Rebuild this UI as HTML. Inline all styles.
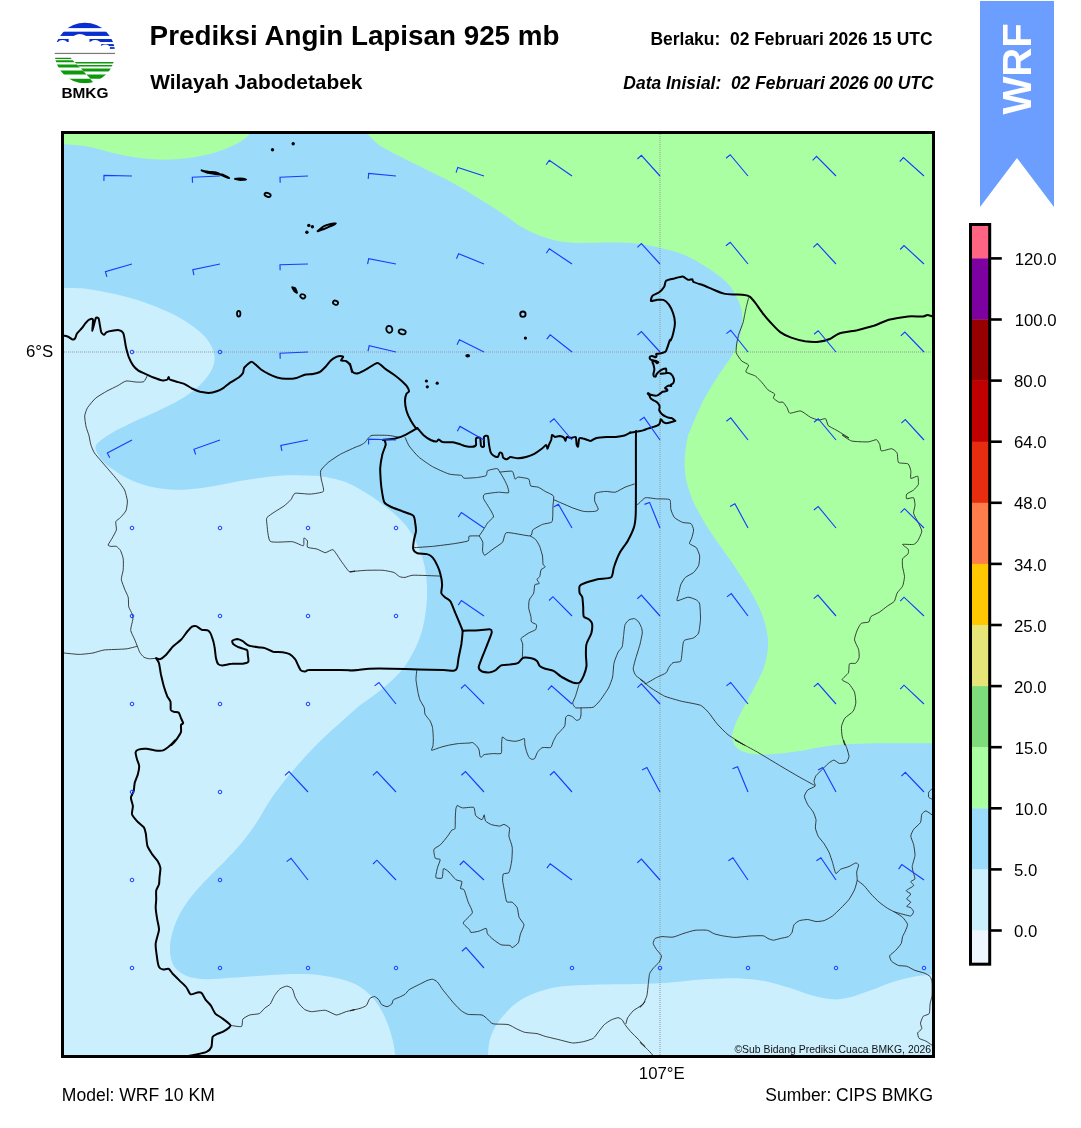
<!DOCTYPE html>
<html><head><meta charset="utf-8">
<style>
html,body{margin:0;padding:0;background:#fff;}
body{width:1081px;height:1128px;overflow:hidden;position:relative;font-family:"Liberation Sans",sans-serif;}
svg{position:absolute;left:0;top:0;will-change:transform;}
text{font-family:"Liberation Sans",sans-serif;fill:#000;}
.b{font-weight:bold;}
.thick{fill:none;stroke:#000;stroke-width:2.0;stroke-linejoin:round;stroke-linecap:round;}
.thin{fill:none;stroke:#202020;stroke-width:0.85;stroke-linejoin:round;}
.barb{fill:none;stroke:#1a3cff;stroke-width:1.15;stroke-linecap:butt;}
.calm{fill:none;stroke:#1a3cff;stroke-width:1;}
</style></head><body>
<svg width="1081" height="1128" viewBox="0 0 1081 1128">
<defs><clipPath id="mc"><rect x="64" y="134" width="868" height="921"/></clipPath></defs>
<!--LOGO-->
<defs><clipPath id="lc"><circle cx="84.9" cy="53" r="30.2"/></clipPath></defs><g clip-path="url(#lc)"><rect x="50.35" y="20.17" width="71.21" height="7.93" fill="#0a2fd0"/><rect x="50.35" y="31.67" width="71.21" height="4.27" fill="#0a2fd0"/><rect x="50.35" y="38.99" width="18.31" height="3.05" fill="#0a2fd0"/><rect x="89.51" y="38.99" width="32.04" height="3.05" fill="#0a2fd0"/><rect x="101.21" y="44.08" width="20.35" height="2.03" fill="#0a2fd0"/><rect x="109.86" y="47.13" width="11.70" height="1.73" fill="#0a2fd0"/><g fill="#fff"><ellipse cx="79.85" cy="39.50" rx="7.63" ry="5.60"/><ellipse cx="62.55" cy="43.57" rx="5.09" ry="3.56"/><ellipse cx="95.11" cy="44.08" rx="5.60" ry="4.07"/><ellipse cx="105.28" cy="47.13" rx="4.07" ry="2.54"/></g><rect x="50.35" y="52.83" width="71.21" height="1.22" fill="#7a7a7a"/><polygon points="50.35,57.81 70.69,57.81 71.71,58.93 50.35,58.93" fill="#0c9a0c"/><polygon points="50.35,60.15 72.73,60.15 74.76,62.19 50.35,62.19" fill="#0c9a0c"/><polygon points="74.76,61.88 121.56,61.88 121.56,63.41 76.29,63.41" fill="#0c9a0c"/><polygon points="50.35,64.43 77.00,64.43 79.85,67.48 50.35,67.48" fill="#0c9a0c"/><polygon points="77.81,64.93 121.56,64.93 121.56,66.56 79.34,66.56" fill="#0c9a0c"/><polygon points="50.35,70.53 82.70,70.53 86.46,74.60 50.35,74.60" fill="#0c9a0c"/><polygon points="80.86,68.49 121.56,68.49 121.56,71.55 83.92,71.55" fill="#0c9a0c"/><polygon points="50.35,78.67 90.02,78.67 94.09,83.25 50.35,84.26" fill="#0c9a0c"/><polygon points="86.46,74.60 121.56,74.60 121.56,78.67 90.53,78.67" fill="#0c9a0c"/></g><text x="84.9" y="98" font-size="15.4" font-weight="bold" text-anchor="middle">BMKG</text>
<!--HEADER-->
<text x="149.6" y="44.5" class="b" font-size="27.8">Prediksi Angin Lapisan 925 mb</text>
<text x="150.2" y="89" class="b" font-size="20.9">Wilayah Jabodetabek</text>
<text x="932.5" y="45" class="b" font-size="17.45" text-anchor="end" xml:space="preserve">Berlaku:  02 Februari 2026 15 UTC</text>
<text x="933.5" y="88.8" class="b" font-size="17.45" font-style="italic" text-anchor="end" xml:space="preserve">Data Inisial:  02 Februari 2026 00 UTC</text>
<!--RIBBON-->
<polygon points="980,1 1054,1 1054,207 1017,158 980,207" fill="#6b9eff"/>
<text transform="translate(1031,114.6) rotate(-90)" class="b" font-size="40.2" style="fill:#fff">WRF</text>
<!--MAP-->
<g clip-path="url(#mc)">
<rect x="64" y="134" width="868" height="921" fill="#9ddbfb"/>
<!--FILLS-->
<path d="M64.1,144.3 C68.0,144.7 79.0,145.0 87.5,146.5 C96.0,148.0 105.8,151.4 115.0,153.4 C124.2,155.3 134.2,157.3 142.5,158.3 C150.7,159.4 157.1,159.7 164.5,159.7 C171.8,159.7 179.1,159.2 186.5,158.3 C193.8,157.4 201.6,155.9 208.5,154.2 C215.3,152.5 222.2,150.1 227.7,147.9 C233.2,145.7 237.8,143.3 241.5,141.0 C245.1,138.7 247.9,136.0 249.7,134.1 C251.5,132.3 252.0,130.7 252.5,130.0 L255.0,120.0 L50.0,120.0 L50.0,144.0Z" fill="#abffa3"/>
<path d="M363.7,130.0 C364.4,130.7 365.6,131.8 367.9,134.1 C370.2,136.4 373.1,140.5 377.5,143.7 C381.8,147.0 387.1,149.7 394.0,153.4 C400.9,157.0 410.5,161.6 418.7,165.7 C427.0,169.9 435.2,173.8 443.5,178.1 C451.7,182.5 460.4,187.3 468.2,191.9 C476.0,196.4 483.8,201.5 490.2,205.6 C496.6,209.7 501.7,213.2 506.7,216.6 C511.8,220.0 515.4,223.3 520.5,226.2 C525.5,229.2 531.5,232.2 537.0,234.5 C542.5,236.8 547.5,238.6 553.5,240.0 C559.4,241.4 565.4,242.3 572.7,242.7 C580.0,243.2 588.7,242.7 597.5,242.7 C606.2,242.7 617.9,242.5 625.0,242.7 C632.0,243.0 633.8,243.2 640.0,244.1 C646.2,245.0 655.1,246.6 662.0,248.2 C668.9,249.8 674.8,251.2 681.2,253.7 C687.7,256.2 694.5,259.9 700.5,263.4 C706.4,266.8 712.2,270.7 717.0,274.3 C721.8,278.0 726.2,281.7 729.4,285.3 C732.6,289.0 734.3,292.5 736.2,296.3 C738.2,300.2 740.2,304.8 741.2,308.7 C742.2,312.6 742.3,316.1 742.3,319.7 C742.3,323.4 742.0,326.8 741.2,330.7 C740.4,334.6 739.1,339.0 737.6,343.1 C736.1,347.2 734.6,351.1 732.1,355.5 C729.6,359.8 725.7,364.4 722.5,369.2 C719.3,374.0 716.1,379.1 712.9,384.3 C709.7,389.6 706.2,395.1 703.2,400.8 C700.3,406.6 697.3,413.4 695.0,418.7 C692.7,424.0 690.6,429.7 689.5,432.4 C688.3,435.2 688.8,431.8 688.1,435.0 C687.4,438.2 685.9,446.0 685.4,451.5 C684.8,457.0 684.5,462.5 684.8,468.0 C685.1,473.5 685.8,478.8 687.3,484.5 C688.8,490.2 691.0,496.4 693.6,502.4 C696.3,508.3 699.6,514.0 703.2,520.2 C706.9,526.4 711.3,533.1 715.6,539.5 C720.0,545.9 724.8,552.1 729.4,558.7 C733.9,565.4 738.8,572.5 743.1,579.3 C747.5,586.2 752.0,593.3 755.5,600.0 C758.9,606.6 761.7,612.8 763.7,619.2 C765.8,625.6 767.3,632.5 767.9,638.5 C768.4,644.4 767.9,649.5 767.0,655.0 C766.1,660.5 764.5,666.0 762.4,671.5 C760.2,677.0 757.1,682.2 754.1,688.0 C751.1,693.7 747.5,700.1 744.5,705.8 C741.5,711.6 738.3,717.5 736.2,722.3 C734.2,727.1 732.7,731.8 732.1,734.7 C731.6,737.6 732.5,738.2 732.9,740.0 C733.4,741.8 733.4,743.7 734.9,745.5 C736.3,747.3 738.3,749.5 741.7,751.0 C745.2,752.5 749.5,753.8 755.5,754.3 C761.4,754.8 770.1,754.3 777.5,753.7 C784.8,753.2 792.1,752.1 799.5,751.0 C806.8,749.9 813.2,748.0 821.5,746.9 C829.7,745.7 838.0,744.7 849.0,744.1 C860.0,743.5 873.6,743.4 887.5,743.3 C901.3,743.2 922.8,743.3 932.0,743.3 C941.2,743.3 940.7,743.3 942.4,743.3 L950.0,743.0 L950.0,120.0 L363.0,120.0Z" fill="#abffa3"/>
<path d="M60.0,288.1 C60.7,288.1 59.5,288.0 64.1,288.1 C68.7,288.2 79.0,287.9 87.5,288.9 C96.0,289.9 105.8,292.0 115.0,294.1 C124.2,296.3 133.3,298.7 142.5,301.8 C151.7,305.0 162.2,309.2 170.0,312.8 C177.8,316.5 183.7,320.2 189.2,323.8 C194.7,327.5 199.3,331.2 203.0,334.8 C206.6,338.5 209.3,342.2 211.2,345.8 C213.1,349.5 214.3,353.2 214.5,356.8 C214.8,360.5 214.1,364.2 212.6,367.8 C211.1,371.5 208.7,375.2 205.7,378.8 C202.7,382.5 199.3,386.2 194.7,389.8 C190.1,393.5 184.6,397.2 178.2,400.8 C171.8,404.5 163.6,408.4 156.2,411.8 C148.9,415.3 141.1,418.2 134.2,421.4 C127.4,424.7 120.5,428.0 115.0,431.1 C109.5,434.2 104.5,437.7 101.2,440.1 C98.0,442.6 96.4,443.9 95.7,446.0 C95.1,448.1 95.7,450.1 97.1,452.9 C98.5,455.6 101.0,459.5 104.0,462.5 C107.0,465.5 110.9,468.0 115.0,470.7 C119.1,473.5 123.2,476.5 128.7,479.0 C134.2,481.5 141.1,484.1 148.0,485.9 C154.9,487.6 163.1,488.9 170.0,489.4 C176.9,490.0 182.4,489.7 189.2,489.2 C196.1,488.7 203.4,487.7 211.2,486.4 C219.0,485.2 228.2,483.1 236.0,481.7 C243.8,480.4 250.6,479.2 258.0,478.2 C265.3,477.2 272.6,476.2 280.0,475.7 C287.3,475.2 295.1,475.3 302.0,475.4 C308.8,475.5 314.8,475.4 321.2,476.2 C327.6,477.1 335.7,479.1 340.5,480.4 C345.3,481.7 346.1,482.1 350.0,483.9 C353.9,485.8 358.7,488.3 363.7,491.4 C368.8,494.4 374.7,498.2 380.2,502.4 C385.7,506.5 391.9,511.5 396.7,516.1 C401.6,520.7 405.4,524.6 409.1,529.9 C412.8,535.1 416.1,541.5 418.7,547.7 C421.4,553.9 423.4,560.6 424.8,567.0 C426.2,573.4 426.7,579.8 427.0,586.2 C427.3,592.6 427.1,598.6 426.4,605.5 C425.7,612.3 424.6,620.6 422.9,627.5 C421.1,634.3 419.0,640.3 416.0,646.7 C413.0,653.1 409.1,660.2 405.0,666.0 C400.9,671.7 396.3,676.3 391.2,681.1 C386.2,685.9 380.2,690.6 374.7,694.8 C369.2,699.1 363.8,702.2 358.2,706.7 C352.7,711.1 347.2,716.6 341.6,721.6 C336.0,726.6 330.2,731.6 324.9,736.6 C319.6,741.6 315.0,746.3 310.0,751.6 C305.0,756.9 299.8,762.7 295.0,768.2 C290.2,773.7 285.7,779.2 281.3,784.8 C277.0,790.4 273.1,795.6 269.0,801.9 C264.8,808.1 261.2,815.6 256.6,822.5 C252.0,829.4 246.7,836.7 241.5,843.1 C236.2,849.5 230.5,855.3 225.0,861.0 C219.5,866.7 213.7,872.0 208.5,877.5 C203.2,883.0 197.9,888.2 193.4,894.0 C188.8,899.7 184.3,905.9 181.0,911.8 C177.6,917.8 175.1,924.0 173.3,929.7 C171.4,935.4 170.3,941.2 170.0,946.2 C169.7,951.3 170.2,956.1 171.4,960.0 C172.5,963.9 174.1,966.8 176.9,969.6 C179.6,972.3 183.0,974.9 187.9,976.5 C192.7,978.1 198.6,979.0 205.7,979.2 C212.8,979.4 221.8,978.4 230.5,977.8 C239.2,977.3 248.8,976.5 258.0,975.9 C267.1,975.3 276.3,974.5 285.5,974.3 C294.6,974.0 304.7,973.9 313.0,974.5 C321.2,975.1 328.8,976.6 335.0,977.8 C341.1,979.1 345.7,980.4 350.0,982.0 C354.3,983.6 357.3,984.9 361.0,987.5 C364.7,990.0 368.6,993.2 372.0,997.1 C375.4,1001.0 378.9,1006.0 381.6,1010.8 C384.4,1015.6 386.7,1021.1 388.5,1025.9 C390.3,1030.8 391.6,1035.7 392.6,1039.7 C393.6,1043.7 394.1,1046.9 394.5,1050.1 C395.0,1053.4 395.2,1057.5 395.4,1058.9 L395.0,1070.0 L50.0,1070.0 L50.0,288.0Z" fill="#cceffe"/>
<path d="M488.3,1058.9 C488.3,1057.5 488.0,1053.6 488.3,1050.1 C488.6,1046.7 489.0,1042.4 490.2,1038.3 C491.5,1034.3 493.4,1029.8 495.7,1025.9 C498.0,1022.1 500.8,1018.6 504.0,1015.0 C507.2,1011.3 510.8,1007.2 515.0,1004.0 C519.1,1000.7 523.7,998.1 528.7,995.7 C533.8,993.3 539.3,991.3 545.2,989.7 C551.2,988.1 556.7,986.9 564.5,986.1 C572.3,985.3 582.8,985.0 592.0,984.7 C601.1,984.4 611.4,984.3 619.5,984.2 C627.5,984.0 632.0,984.1 640.0,983.9 C648.0,983.7 658.3,983.4 667.5,982.8 C676.7,982.1 685.8,980.8 695.0,980.0 C704.2,979.3 714.2,978.6 722.5,978.4 C730.7,978.2 737.1,978.2 744.5,978.7 C751.8,979.2 759.1,979.9 766.5,981.4 C773.8,982.9 781.1,985.2 788.5,987.5 C795.8,989.7 803.1,992.9 810.5,994.9 C817.8,996.9 826.1,998.8 832.5,999.3 C838.9,999.7 842.5,999.1 849.0,997.6 C855.4,996.1 863.6,992.8 871.0,990.2 C878.3,987.6 885.6,984.2 893.0,982.0 C900.3,979.7 908.4,977.7 915.0,976.5 C921.5,975.2 927.4,975.0 932.0,974.5 C936.6,974.1 940.7,973.8 942.4,973.7 L950.0,974.0 L950.0,1070.0 L488.0,1070.0Z" fill="#cceffe"/>

<!--GRID-->
<line x1="64" y1="352" x2="932" y2="352" stroke="#999" stroke-width="1" stroke-dasharray="1,1"/>
<line x1="660" y1="134" x2="660" y2="1055" stroke="#999" stroke-width="1" stroke-dasharray="1,1"/>
<!--THIN-->
<path class="thin" d="M147.4,375.5 C147.1,376.1 144.8,381.0 143.9,381.6 C142.9,382.2 138.6,382.2 137.0,382.1 C135.4,382.1 127.7,380.7 126.0,381.0 C124.2,381.4 119.5,384.8 117.7,385.7 C116.0,386.6 108.7,390.1 106.7,391.2 C104.7,392.3 97.5,396.6 95.7,398.1 C94.0,399.6 88.5,406.1 87.5,407.7 C86.5,409.3 84.9,414.2 84.7,415.9 C84.6,417.7 85.7,425.2 86.1,426.9 C86.5,428.7 88.4,433.6 88.9,435.2 C89.3,436.8 90.3,443.0 90.8,444.6 C91.3,446.2 93.4,451.4 94.4,452.9 C95.3,454.4 99.9,459.5 101.2,461.1 C102.6,462.7 108.0,469.0 109.5,470.7 C111.0,472.5 116.4,478.6 117.7,480.4 C119.1,482.1 123.7,488.1 124.6,490.0 C125.5,491.9 127.2,499.1 127.4,501.0 C127.5,502.9 126.6,509.1 126.0,510.6 C125.4,512.1 121.4,516.5 120.5,517.5 C119.6,518.5 116.2,520.5 115.8,521.6 C115.4,522.7 116.7,528.4 116.4,529.9 C116.0,531.4 113.0,536.7 112.2,538.1 C111.5,539.5 108.2,544.2 108.1,545.0 C108.0,545.7 110.1,546.2 110.9,546.4 C111.6,546.5 115.5,546.0 116.4,546.4 C117.2,546.7 119.9,549.4 120.5,550.5 C121.1,551.6 123.0,557.0 123.2,558.7 C123.5,560.5 123.4,567.9 123.2,569.7 C123.1,571.6 121.2,577.6 121.3,579.3 C121.4,581.1 124.0,587.3 124.6,589.0 C125.2,590.6 127.8,595.6 128.2,597.2 C128.6,598.8 128.4,605.3 128.7,606.8 C129.1,608.3 131.7,612.6 132.0,613.7 C132.4,614.8 133.0,617.7 132.9,619.2 C132.7,620.7 130.5,628.5 130.7,630.2 C130.8,632.0 133.6,637.0 134.2,638.5 C134.9,640.0 137.0,645.5 137.5,646.7 C138.0,648.0 139.2,651.3 139.7,652.2 C140.3,653.2 143.0,656.6 143.9,657.2 C144.7,657.8 148.2,658.7 149.4,658.8 C150.5,658.9 155.6,658.3 156.2,658.3"/>
<path class="thin" d="M60.0,652.8 C60.4,652.8 62.4,652.9 64.1,653.0 C65.9,653.2 76.6,654.4 79.2,654.4 C81.9,654.4 90.7,653.4 93.0,653.0 C95.2,652.6 101.0,650.4 104.0,650.0 C107.0,649.6 122.9,649.3 126.0,648.9 C129.0,648.6 136.5,646.4 137.5,646.2"/>
<path class="thin" d="M398.9,437.2 C397.8,437.0 390.2,435.5 387.8,435.4 C385.3,435.2 373.8,435.1 372.0,435.4 C370.3,435.6 369.0,437.5 368.3,438.1 C367.7,438.8 365.4,442.1 364.6,442.8 C363.9,443.4 360.9,445.1 360.0,445.5 C359.1,445.9 356.8,446.6 355.0,447.4 C353.2,448.2 342.9,452.9 340.5,454.2 C338.0,455.6 329.9,461.0 328.1,462.5 C326.3,464.0 321.3,469.2 320.7,470.7 C320.0,472.2 321.0,477.1 321.2,479.0 C321.5,480.9 324.4,490.0 323.4,491.4 C322.4,492.7 312.8,493.9 310.2,494.1 C307.6,494.3 296.8,492.8 295.1,493.3 C293.3,493.8 292.0,498.5 291.0,499.6 C290.0,500.8 285.6,504.8 284.1,505.9 C282.6,507.1 276.0,510.9 274.5,512.0 C272.9,513.0 267.7,516.5 267.0,517.5 C266.3,518.5 266.5,520.8 266.8,523.0 C267.1,525.2 268.0,539.7 270.3,541.4 C272.7,543.1 289.3,541.3 292.3,541.7 C295.3,542.1 302.3,546.1 303.3,545.8 C304.4,545.5 303.5,538.6 303.9,538.1 C304.3,537.7 307.1,540.0 307.5,540.9 C307.8,541.7 306.6,546.4 307.5,547.2 C308.3,547.9 315.5,548.6 317.1,549.1 C318.7,549.6 323.9,552.6 325.3,552.7 C326.8,552.7 331.7,549.0 333.0,549.7 C334.4,550.3 339.0,558.1 340.5,560.1 C341.9,562.1 347.9,570.7 349.2,571.7 C350.6,572.7 355.0,571.1 355.0,571.1 C355.1,571.1 349.0,571.7 350.0,571.7 C351.0,571.6 363.5,570.4 366.5,570.3 C369.5,570.2 380.5,570.1 383.0,570.3 C385.5,570.5 392.5,571.9 394.0,572.5 C395.5,573.1 398.5,576.2 399.5,576.6 C400.5,577.1 403.7,577.6 405.0,577.4 C406.2,577.3 410.0,575.4 413.2,575.2 C416.5,575.1 438.2,576.0 440.7,576.1"/>
<path class="thin" d="M405.0,437.2 C405.4,438.0 407.9,444.2 409.1,446.0 C410.4,447.8 416.6,455.1 418.7,457.0 C420.9,458.9 429.7,465.1 432.5,466.6 C435.2,468.2 446.4,473.2 449.0,474.0 C451.6,474.8 460.0,475.0 461.4,475.4 C462.7,475.8 462.7,478.0 464.1,478.2 C465.5,478.4 474.5,477.8 476.5,477.6 C478.5,477.4 485.1,476.3 486.1,475.7 C487.1,475.1 486.5,471.4 487.5,470.7 C488.5,470.1 496.0,468.4 497.1,468.5 C498.2,468.7 499.2,471.2 499.8,472.1 C500.5,473.1 503.3,477.7 504.0,479.0 C504.6,480.2 506.8,484.6 507.3,485.9 C507.7,487.1 509.4,492.2 508.6,492.7 C507.8,493.3 500.6,492.1 498.5,492.2 C496.3,492.3 486.1,493.6 484.7,494.1 C483.4,494.7 483.1,497.2 483.4,498.2 C483.6,499.2 486.7,503.9 487.5,505.1 C488.2,506.4 491.1,510.9 491.6,512.0 C492.2,513.1 493.9,515.9 493.5,516.9 C493.1,517.9 488.4,521.8 487.5,523.0 C486.6,524.2 484.1,528.7 483.4,529.9 C482.6,531.0 479.6,535.4 479.2,535.9"/>
<path class="thin" d="M499.8,472.1 C501.0,472.0 510.8,470.7 512.2,471.3 C513.6,471.9 514.4,478.5 515.0,479.0 C515.5,479.5 517.0,477.1 518.3,477.1 C519.5,477.1 527.6,478.2 528.7,479.0 C529.8,479.8 529.8,485.1 530.6,485.9 C531.5,486.6 537.0,486.7 538.3,487.2 C539.7,487.7 543.8,490.6 545.2,491.4 C546.6,492.2 552.8,494.7 553.5,496.0 C554.2,497.4 553.0,504.2 552.9,506.5 C552.8,508.8 553.0,520.0 552.1,521.6 C551.1,523.2 544.2,523.6 542.5,524.4 C540.7,525.1 534.0,528.8 532.8,529.9 C531.7,530.9 532.5,535.7 530.1,535.9 C527.7,536.2 509.2,532.0 506.7,532.6 C504.2,533.2 503.8,540.7 502.6,542.2 C501.3,543.7 494.6,547.9 493.0,549.1 C491.4,550.3 485.7,555.0 484.7,555.2 C483.8,555.3 482.7,551.7 482.5,550.5 C482.4,549.3 483.1,543.6 482.8,542.2 C482.5,540.9 479.6,536.5 479.2,535.9"/>
<path class="thin" d="M413.2,547.7 C415.0,547.6 428.7,546.7 432.5,546.4 C436.2,546.0 451.2,544.1 454.5,543.6 C457.7,543.1 466.9,541.5 468.2,540.9 C469.6,540.2 468.1,536.6 469.1,536.2 C470.1,535.7 478.3,535.9 479.2,535.9"/>
<path class="thin" d="M553.5,499.6 C554.2,499.9 560.0,502.4 561.7,503.2 C563.5,503.9 570.7,507.1 572.7,507.9 C574.7,508.6 581.7,511.1 583.7,511.4 C585.7,511.8 593.4,511.6 594.7,511.4 C596.0,511.2 598.3,510.2 598.3,509.2 C598.3,508.3 595.0,502.4 594.7,501.0 C594.5,499.5 594.5,494.2 595.5,493.3 C596.5,492.4 603.9,491.5 605.7,491.4 C607.5,491.3 613.6,492.6 615.3,492.2 C617.1,491.8 623.2,488.0 625.0,487.2 C626.7,486.5 633.7,484.2 634.6,483.9"/>
<path class="thin" d="M530.1,535.9 C530.6,536.2 534.7,538.5 535.6,539.5 C536.5,540.4 539.1,544.9 539.7,546.4 C540.3,547.9 542.2,554.4 542.5,556.0 C542.8,557.6 542.8,563.2 543.0,564.2 C543.3,565.2 545.4,566.5 545.2,567.0 C545.0,567.5 541.6,568.9 541.1,569.7 C540.6,570.6 540.1,575.7 539.7,576.6 C539.3,577.5 537.0,578.7 537.0,579.3 C536.9,580.0 539.4,583.0 539.2,583.5 C539.0,584.0 535.3,584.0 534.8,584.8 C534.3,585.7 534.2,591.7 533.7,593.1 C533.2,594.5 529.7,598.6 529.3,600.0 C528.8,601.3 528.6,606.7 528.7,608.2 C528.9,609.7 530.7,615.2 530.9,616.5 C531.2,617.7 531.0,621.2 531.5,622.0 C532.0,622.7 536.0,624.0 536.4,624.7 C536.8,625.4 536.3,628.9 535.6,629.7 C534.9,630.4 530.0,632.2 528.7,633.0 C527.4,633.8 521.6,637.5 521.0,638.5 C520.5,639.5 522.5,642.3 522.7,644.0 C522.8,645.7 522.4,656.0 522.4,657.2"/>
<path class="thin" d="M416.8,670.1 C416.7,671.0 415.9,677.6 416.0,679.7 C416.1,681.8 417.8,691.6 418.2,693.5 C418.6,695.3 419.4,698.7 420.0,700.0 C420.5,701.3 423.7,706.2 424.2,707.5 C424.6,708.8 424.5,712.9 425.0,714.2 C425.5,715.4 429.3,719.6 430.0,720.8 C430.7,722.0 432.2,725.9 432.5,727.5 C432.8,729.1 433.3,736.6 433.3,738.3 C433.4,740.0 433.1,744.7 433.0,745.8 C432.8,746.9 431.0,750.1 431.6,750.3 C432.3,750.4 438.5,747.9 440.0,747.5 C441.5,747.0 446.6,745.6 448.3,745.3 C450.0,744.9 456.3,743.8 458.3,743.6 C460.3,743.4 468.7,743.1 469.9,743.0 C471.2,742.9 471.8,742.2 472.4,742.5 C473.0,742.7 476.0,745.1 476.6,745.8 C477.2,746.5 478.8,749.0 479.1,750.0 C479.4,750.9 479.7,755.1 479.9,755.8 C480.1,756.5 480.9,757.5 481.3,757.4 C481.6,757.3 483.0,755.0 484.1,754.6 C485.2,754.3 491.7,753.7 493.3,753.6 C494.8,753.5 500.5,754.2 501.2,753.3 C502.0,752.3 501.5,744.8 501.6,743.3 C501.7,741.8 502.0,737.3 502.4,737.0 C502.9,736.7 505.4,739.6 506.6,740.0 C507.7,740.4 513.7,741.3 514.9,741.3 C516.1,741.3 519.0,740.5 519.9,740.3 C520.8,740.1 523.9,738.2 524.4,738.6 C524.8,739.1 524.7,743.8 524.9,745.0 C525.1,746.1 526.2,750.5 526.6,751.6 C526.9,752.8 528.5,756.7 529.0,757.4 C529.6,758.2 531.8,759.4 532.4,759.4 C532.9,759.5 534.4,758.9 534.9,758.3 C535.3,757.6 536.8,753.3 537.4,752.4 C537.9,751.6 540.2,749.1 540.7,748.6 C541.2,748.2 542.3,747.6 543.2,747.5 C544.1,747.3 549.8,748.0 550.7,747.5 C551.6,746.9 552.7,742.7 553.2,741.6 C553.7,740.5 555.8,736.3 556.5,735.3 C557.2,734.3 559.9,731.7 560.7,730.8 C561.4,729.9 564.4,727.0 564.8,725.8 C565.3,724.6 565.4,718.4 565.7,717.5 C566.0,716.5 567.6,715.4 568.2,715.3 C568.8,715.2 571.6,716.2 572.3,716.7 C573.1,717.1 575.8,720.1 576.5,720.3 C577.2,720.5 579.4,719.6 579.8,719.1 C580.2,718.7 580.9,716.0 581.0,715.0 C581.1,714.0 581.0,709.0 581.0,708.3 C581.0,707.7 581.0,707.8 581.0,707.8"/>
<path class="thin" d="M579.6,682.5 C579.2,683.7 576.1,694.3 575.5,696.2 C574.8,698.1 572.7,702.0 572.7,703.1 C572.7,704.1 574.5,707.3 575.5,707.8 C576.5,708.2 582.1,707.8 583.7,707.8 C585.3,707.7 591.8,707.9 593.3,707.2 C594.8,706.5 598.8,702.1 600.2,700.3 C601.6,698.6 607.3,690.1 608.5,688.0 C609.6,685.8 612.1,679.2 612.6,677.0 C613.1,674.7 613.5,665.5 614.0,663.2 C614.5,661.0 617.3,653.7 618.1,652.2 C618.8,650.7 621.7,648.2 622.2,646.7 C622.7,645.2 623.3,637.7 623.6,635.7 C623.8,633.7 624.5,626.2 625.0,624.7 C625.5,623.3 628.2,620.3 629.1,619.8 C630.0,619.2 633.7,618.5 634.6,618.7 C635.5,618.9 638.1,621.2 638.7,622.0 C639.3,622.8 641.1,626.5 641.4,627.5 C641.8,628.5 642.4,631.5 642.3,633.0 C642.1,634.5 640.6,641.7 640.1,644.0 C639.5,646.2 636.6,655.5 635.9,657.7 C635.3,660.0 633.2,667.1 633.2,668.7 C633.2,670.3 634.9,674.3 635.9,675.6 C637.0,676.8 644.2,681.7 645.0,682.5 C645.9,683.2 644.5,684.3 645.5,683.8 C646.5,683.4 654.6,678.5 656.5,677.5 C658.4,676.5 665.0,673.8 666.1,672.8 C667.2,671.9 668.2,668.3 668.9,667.3 C669.5,666.4 671.9,663.2 673.0,662.7 C674.1,662.1 679.9,662.2 680.7,661.3 C681.5,660.3 681.8,654.1 682.1,652.2 C682.4,650.3 682.9,642.0 684.0,640.7 C685.0,639.4 692.3,638.6 693.6,637.9 C694.9,637.2 697.9,634.7 698.6,633.0 C699.2,631.3 700.4,621.8 700.5,619.2 C700.6,616.6 700.0,605.8 699.7,604.1 C699.3,602.3 697.4,600.6 696.4,600.0 C695.3,599.3 689.9,597.1 688.1,597.2 C686.4,597.3 678.0,601.0 677.1,600.8 C676.2,600.5 678.2,595.9 678.5,594.5 C678.8,593.0 680.1,586.4 680.7,584.8 C681.3,583.3 684.2,578.5 685.4,577.4 C686.5,576.3 692.4,573.6 693.6,572.5 C694.8,571.4 698.0,567.1 698.6,565.6 C699.1,564.1 699.9,557.6 699.7,556.0 C699.5,554.4 697.3,548.9 696.4,547.7 C695.4,546.6 689.9,544.5 689.5,543.6 C689.1,542.7 691.3,539.4 691.7,538.1 C692.1,536.9 693.7,531.2 693.6,529.9 C693.5,528.5 691.9,524.2 690.9,523.5 C689.9,522.9 684.1,523.0 682.6,522.4 C681.1,521.9 675.4,518.7 674.4,517.5 C673.3,516.3 671.2,510.9 670.8,509.2 C670.4,507.6 671.0,500.6 669.7,499.6 C668.4,498.7 658.7,499.0 656.5,498.8 C654.3,498.6 647.0,497.4 645.5,497.7 C644.0,498.0 640.6,501.8 640.0,502.4 C639.4,502.9 638.8,503.6 638.5,503.8 C638.2,504.0 636.7,504.7 636.5,504.8"/>
<path class="thin" d="M640.0,679.2 C641.0,680.0 648.7,686.4 651.0,688.0 C653.2,689.5 662.0,695.0 664.7,696.2 C667.5,697.4 678.0,700.3 681.2,701.2 C684.5,702.0 698.0,704.2 700.5,705.3 C703.0,706.3 707.2,711.0 708.7,712.7 C710.2,714.4 715.2,721.7 717.0,723.7 C718.7,725.7 725.5,732.7 728.0,734.7 C730.5,736.6 743.9,744.7 744.5,745.1 C745.1,745.6 733.9,739.5 734.9,740.0 C735.9,740.5 751.6,748.8 755.5,751.0 C759.4,753.2 773.5,761.8 777.5,764.2 C781.5,766.6 796.1,775.2 799.5,777.1 C802.8,779.0 813.2,784.6 814.6,785.4"/>
<path class="thin" d="M748.6,297.7 C748.4,298.7 746.4,306.5 745.9,308.7 C745.4,311.0 743.7,320.2 743.1,322.5 C742.5,324.7 739.6,331.6 739.0,333.5 C738.4,335.3 737.0,341.3 736.8,343.1 C736.5,344.8 735.8,351.1 736.2,352.7 C736.7,354.3 740.6,359.8 741.7,361.0 C742.9,362.1 748.2,364.1 748.6,365.1 C749.0,366.1 745.2,371.0 745.9,372.0 C746.5,373.0 754.0,375.1 755.5,376.1 C757.0,377.1 761.2,381.7 762.4,383.0 C763.5,384.2 766.7,388.8 767.9,389.8 C769.0,390.8 774.2,393.2 774.7,394.0 C775.2,394.7 773.0,397.3 773.4,398.1 C773.7,398.8 778.0,401.8 778.9,402.2 C779.7,402.6 782.2,401.7 783.0,402.2 C783.7,402.7 786.5,406.7 787.1,407.7 C787.7,408.7 788.6,412.9 789.8,413.2 C791.1,413.5 799.0,410.6 800.8,411.0 C802.7,411.4 808.8,416.5 810.5,417.3 C812.1,418.1 817.3,419.9 818.7,420.1 C820.1,420.2 824.7,418.2 825.6,418.7 C826.5,419.2 827.2,424.4 828.3,425.6 C829.5,426.7 836.1,429.9 838.0,431.1 C839.8,432.2 848.6,437.6 849.0,437.9 C849.3,438.3 841.8,434.7 842.1,435.0 C842.3,435.3 849.3,440.4 851.7,441.0 C854.1,441.7 866.0,442.0 868.2,441.9 C870.5,441.7 875.4,439.4 876.5,439.7 C877.5,439.9 879.3,443.6 879.8,444.6 C880.2,445.6 880.3,450.6 881.4,450.9 C882.5,451.3 890.2,448.6 891.6,448.7 C893.0,448.9 896.5,451.6 897.1,452.9 C897.7,454.1 897.5,461.5 898.5,462.5 C899.5,463.5 907.0,463.1 908.1,463.9 C909.2,464.6 910.6,469.4 910.8,470.7 C911.1,472.1 910.2,477.9 910.8,478.4 C911.5,478.9 917.0,475.7 917.7,476.2 C918.4,476.8 918.6,483.2 918.3,484.5 C917.9,485.7 914.6,489.1 913.6,490.0 C912.5,490.9 907.3,493.3 906.7,494.1 C906.1,494.9 906.1,498.5 906.7,498.8 C907.3,499.1 912.8,497.1 913.6,497.7 C914.3,498.3 915.0,503.7 915.0,505.1 C915.0,506.5 913.3,511.9 913.6,513.4 C913.8,514.9 917.0,520.0 917.7,521.6 C918.5,523.2 921.8,529.5 921.8,531.2 C921.8,533.0 918.5,539.7 917.7,540.9 C917.0,542.1 915.0,544.1 913.6,544.4 C912.2,544.8 903.1,544.0 902.6,544.4 C902.1,544.9 907.6,548.3 908.1,549.1 C908.6,550.0 908.6,552.9 908.1,553.8 C907.6,554.7 903.1,557.5 902.6,558.7 C902.1,559.9 902.4,565.4 902.6,567.0 C902.8,568.6 904.5,574.9 904.5,576.6 C904.5,578.3 903.3,584.7 902.6,586.2 C901.9,587.7 897.8,591.7 897.1,593.1 C896.3,594.5 895.2,600.2 894.3,601.3 C893.5,602.5 888.8,605.0 887.5,606.0 C886.1,607.0 880.7,611.4 879.2,612.3 C877.7,613.3 871.9,615.6 871.0,616.5 C870.0,617.3 869.6,621.3 868.8,622.0 C867.9,622.6 862.4,622.6 861.3,623.3 C860.3,624.1 857.8,628.7 857.2,630.2 C856.6,631.7 854.3,638.1 854.5,639.8 C854.6,641.6 858.2,647.8 858.6,649.5 C859.0,651.1 859.4,656.5 859.1,657.7 C858.9,659.0 856.7,662.7 855.8,663.2 C855.0,663.8 850.2,662.9 849.5,663.8 C848.8,664.6 849.1,671.4 848.4,672.8 C847.7,674.3 842.0,678.7 842.1,679.7 C842.1,680.7 847.8,682.7 849.0,683.8 C850.1,685.0 853.8,690.3 854.5,692.1 C855.1,693.8 856.0,701.3 855.8,703.1 C855.7,704.8 854.1,710.0 853.1,711.3 C852.1,712.7 845.9,716.8 844.8,718.2 C843.8,719.6 841.8,724.8 841.5,726.4 C841.3,728.1 841.8,734.4 842.1,736.1 C842.4,737.8 844.7,744.8 844.8,745.1 C845.0,745.5 843.3,739.7 843.5,740.0 C843.6,740.3 846.3,746.7 846.8,748.2 C847.3,749.7 849.0,755.2 849.0,756.5 C848.9,757.8 847.1,761.9 846.2,762.5 C845.3,763.2 840.5,763.6 839.3,763.4 C838.2,763.1 834.8,760.1 833.8,760.1 C832.8,760.1 829.3,762.6 828.3,763.4 C827.3,764.2 824.0,767.7 822.8,768.9 C821.7,770.0 816.8,774.6 816.0,775.7 C815.2,776.9 814.1,780.3 814.0,781.2 C814.0,782.2 815.7,785.4 815.1,786.2 C814.6,787.0 808.7,789.1 807.7,790.0 C806.7,791.0 804.4,795.0 804.4,796.4 C804.4,797.7 806.9,803.2 807.7,804.6 C808.5,806.0 812.5,810.7 813.2,812.0 C814.0,813.4 815.8,818.3 816.0,819.7 C816.2,821.2 815.2,826.5 815.4,828.0 C815.6,829.5 817.4,834.8 818.2,836.2 C819.0,837.7 823.2,842.4 824.2,843.9 C825.2,845.4 828.4,851.1 829.2,852.7 C829.9,854.4 831.9,860.5 832.5,862.4 C833.1,864.2 835.0,872.7 835.8,873.4 C836.5,874.0 839.5,869.9 840.7,869.2 C841.9,868.6 847.6,867.1 849.0,866.5 C850.3,865.9 855.0,863.0 855.8,862.9 C856.7,862.8 858.5,864.3 858.6,865.1 C858.7,865.9 856.8,870.6 856.7,872.0 C856.5,873.4 857.4,878.6 857.2,880.2 C857.0,881.9 855.2,888.1 854.5,889.8 C853.7,891.6 850.2,897.8 849.0,899.5 C847.7,901.1 842.2,906.8 840.7,908.3 C839.2,909.8 834.0,914.8 832.5,916.0 C831.0,917.1 825.7,920.1 824.2,920.6 C822.7,921.1 817.5,921.6 816.0,921.5 C814.5,921.4 809.2,919.6 807.7,919.5 C806.2,919.5 800.7,920.2 799.5,920.6 C798.2,921.1 794.6,923.7 794.0,924.8 C793.3,925.8 792.5,931.4 792.0,932.5 C791.5,933.5 789.5,936.0 788.5,936.6 C787.4,937.1 781.6,938.2 780.2,938.5 C778.9,938.8 774.5,940.2 773.4,940.2 C772.2,940.2 768.8,938.9 767.9,938.5 C766.9,938.1 764.8,936.0 763.2,935.8 C761.6,935.5 752.6,935.9 750.0,936.0 C747.4,936.2 737.4,937.4 734.9,937.4 C732.4,937.4 724.4,936.1 722.5,935.8 C720.6,935.4 715.6,934.3 714.2,933.8 C712.9,933.3 709.1,930.6 707.4,930.3 C705.6,929.9 697.1,930.0 695.0,930.3 C692.9,930.5 686.0,932.7 684.0,933.3 C682.0,933.9 675.0,936.8 673.0,937.1 C671.0,937.4 663.6,936.5 662.0,936.6 C660.4,936.7 655.9,937.9 655.1,938.5 C654.3,939.1 653.1,942.5 653.2,943.5 C653.3,944.5 655.7,948.4 656.5,949.5 C657.2,950.6 661.2,954.7 661.4,955.8 C661.7,957.0 659.9,961.1 659.2,962.2 C658.5,963.2 654.6,966.6 653.7,967.7 C652.9,968.7 650.1,972.2 649.6,973.7 C649.1,975.3 648.5,982.7 648.2,984.7 C648.0,986.7 647.3,994.0 646.9,995.7 C646.4,997.5 643.9,1002.9 643.3,1004.0 C642.7,1005.0 639.8,1007.5 640.0,1007.3 C640.2,1007.1 644.9,1001.9 645.0,1001.8 C645.2,1001.6 642.5,1004.5 641.4,1005.3 C640.4,1006.2 634.5,1009.7 633.2,1010.8 C632.0,1012.0 628.4,1016.5 627.7,1017.7 C627.0,1018.9 626.0,1023.5 625.8,1024.0"/>
<path class="thin" d="M857.2,880.2 C857.8,880.7 862.8,884.5 864.1,885.7 C865.3,887.0 869.6,892.5 871.0,894.0 C872.3,895.5 877.7,900.9 879.2,902.2 C880.7,903.5 886.0,907.3 887.5,908.3 C889.0,909.2 894.3,911.8 895.7,912.7 C897.1,913.5 901.5,916.3 902.6,917.3 C903.7,918.4 907.3,923.0 907.5,924.2 C907.8,925.5 905.8,930.0 905.3,931.1 C904.9,932.2 903.0,935.5 902.6,936.6 C902.2,937.7 901.8,942.2 901.2,943.5 C900.6,944.7 896.8,949.2 895.7,950.3 C894.7,951.5 890.0,954.8 889.7,955.8 C889.3,956.8 890.8,960.5 891.6,961.3 C892.4,962.2 897.1,965.0 898.5,965.5 C899.8,965.9 905.2,965.8 906.7,966.3 C908.2,966.7 913.3,969.8 915.0,970.4 C916.6,971.0 923.2,972.6 924.6,973.2 C925.9,973.7 929.4,975.7 930.1,976.5 C930.7,977.3 931.8,980.2 932.0,982.0 C932.2,983.7 932.2,993.7 932.0,995.7 C931.8,997.7 930.3,1002.3 930.1,1004.0 C929.8,1005.6 929.9,1012.5 929.2,1013.6 C928.6,1014.7 924.0,1015.5 923.2,1016.3 C922.4,1017.2 920.6,1022.1 920.5,1023.2 C920.3,1024.3 922.1,1027.8 921.8,1028.7 C921.6,1029.6 918.0,1031.9 917.7,1032.8 C917.5,1033.7 918.3,1037.6 919.1,1038.3 C919.8,1039.1 924.8,1040.4 925.9,1041.1 C927.1,1041.7 931.4,1044.8 932.0,1045.2"/>
<path class="thin" d="M894.3,911.8 C895.2,912.1 902.5,914.2 904.0,914.6 C905.5,915.0 910.0,916.2 910.8,916.0 C911.7,915.7 913.6,912.6 913.6,911.8 C913.6,911.1 911.5,908.2 910.8,907.7 C910.2,907.2 906.7,906.8 906.7,906.3 C906.7,905.8 910.8,902.9 910.8,902.2 C910.8,901.5 906.7,899.7 906.7,898.9 C906.7,898.2 910.9,894.7 910.8,894.0 C910.8,893.2 905.9,891.4 906.2,890.7 C906.4,889.9 913.2,886.5 913.6,885.7 C914.0,884.9 910.7,882.2 910.8,881.6 C911.0,881.0 914.7,879.6 915.0,878.9 C915.2,878.1 913.8,874.5 913.6,873.4 C913.3,872.2 912.1,868.1 912.2,866.5 C912.3,864.9 914.8,857.5 915.0,855.5 C915.1,853.5 914.0,846.2 913.6,844.5 C913.2,842.7 910.8,837.6 910.8,836.2 C910.8,834.9 912.7,830.6 913.6,829.4 C914.5,828.1 919.7,823.9 920.5,822.5 C921.2,821.1 921.3,815.3 921.8,814.2 C922.3,813.2 925.0,810.9 925.9,810.9 C926.9,811.0 931.4,814.4 932.0,814.8"/>
<path class="thin" d="M932.0,788.9 C931.7,789.2 929.0,791.5 928.7,792.2 C928.4,793.0 928.4,796.6 928.7,797.2 C929.0,797.8 931.7,798.9 932.0,799.1"/>
<path class="thin" d="M230.5,1025.4 C231.5,1025.5 240.3,1027.1 241.5,1026.5 C242.6,1025.9 242.1,1020.1 242.8,1019.1 C243.6,1018.0 248.2,1015.5 249.7,1015.0 C251.2,1014.5 258.0,1014.2 259.3,1013.6 C260.7,1013.0 263.8,1009.0 264.8,1008.1 C265.8,1007.2 269.5,1005.1 270.3,1004.0 C271.2,1002.8 273.6,997.1 274.5,995.7 C275.3,994.3 278.8,989.7 280.0,988.8 C281.1,988.0 285.7,986.1 286.8,986.1 C288.0,986.1 291.6,987.8 292.3,988.8 C293.1,989.8 294.5,995.7 295.1,997.1 C295.7,998.5 298.3,1002.8 299.2,1004.0 C300.1,1005.1 303.6,1008.8 304.7,1009.5 C305.8,1010.2 309.7,1011.6 311.6,1011.7 C313.5,1011.7 323.1,1010.0 325.3,1010.3 C327.6,1010.6 334.5,1014.8 336.3,1015.0 C338.2,1015.1 344.3,1012.2 345.9,1011.7 C347.6,1011.2 354.7,1009.5 355.0,1009.5 C355.4,1009.4 349.5,1011.0 350.0,1010.8 C350.5,1010.7 359.5,1008.6 361.0,1008.1 C362.5,1007.6 365.7,1006.2 366.5,1005.3 C367.3,1004.5 369.0,999.3 369.8,998.5 C370.5,997.7 373.9,996.4 374.7,996.5 C375.6,996.7 378.2,999.1 378.9,999.8 C379.5,1000.6 380.9,1003.9 381.6,1004.5 C382.4,1005.1 386.2,1006.8 387.1,1006.7 C388.0,1006.7 391.2,1004.6 391.8,1004.0 C392.4,1003.3 392.7,1000.5 393.4,999.8 C394.1,999.2 398.4,997.6 399.5,997.1 C400.5,996.6 404.1,995.0 405.0,994.3 C405.9,993.7 407.9,990.5 409.1,989.7 C410.4,988.8 417.1,985.5 418.7,984.7 C420.4,983.9 425.7,981.1 427.0,980.6 C428.2,980.1 431.5,979.1 432.5,979.2 C433.4,979.3 436.6,981.1 437.4,982.0 C438.3,982.8 441.2,987.6 442.1,988.8 C443.0,990.1 446.5,994.3 447.6,995.7 C448.7,997.1 453.2,1002.6 454.5,1004.0 C455.7,1005.3 460.1,1009.9 461.4,1010.8 C462.6,1011.8 466.4,1014.0 468.2,1014.4 C470.1,1014.8 480.2,1014.5 482.0,1015.0 C483.7,1015.4 486.5,1018.3 487.5,1019.1 C488.5,1019.9 491.1,1023.3 493.0,1023.8 C494.8,1024.3 506.0,1024.1 508.1,1024.6 C510.2,1025.0 514.8,1028.0 516.3,1028.7 C517.8,1029.4 522.7,1031.8 524.6,1032.3 C526.5,1032.7 535.1,1033.3 537.0,1033.6 C538.8,1034.0 543.2,1035.8 545.2,1036.4 C547.2,1036.9 556.5,1039.1 559.0,1039.7 C561.5,1040.3 570.5,1042.8 572.7,1043.0 C575.0,1043.2 581.8,1042.0 583.7,1041.6 C585.6,1041.2 592.0,1039.2 593.3,1038.3 C594.7,1037.4 597.8,1032.7 598.8,1031.4 C599.8,1030.2 603.2,1025.6 604.3,1024.6 C605.5,1023.5 610.0,1020.5 611.2,1019.9 C612.5,1019.3 617.1,1017.7 618.1,1017.7 C619.1,1017.7 621.6,1019.3 622.2,1019.9 C622.8,1020.5 624.2,1023.5 625.0,1024.6 C625.7,1025.6 629.2,1030.1 630.5,1031.4 C631.7,1032.8 637.4,1038.3 638.7,1039.7 C640.0,1041.1 644.9,1046.3 645.0,1046.6 C645.1,1046.8 639.7,1042.1 640.0,1042.4 C640.3,1042.8 647.0,1048.9 648.2,1050.1 C649.5,1051.4 653.2,1055.6 653.7,1056.2"/>
<path class="thin" d="M457.2,805.4 C457.7,805.7 461.2,807.7 462.7,807.9 C464.2,808.1 472.6,806.7 473.7,807.4 C474.9,808.1 474.9,814.5 475.7,815.6 C476.4,816.7 481.2,819.8 482.0,819.7 C482.8,819.7 483.9,814.7 484.2,814.8 C484.5,814.9 484.9,820.2 485.6,821.1 C486.2,822.0 490.3,824.2 491.6,824.7 C492.9,825.1 498.7,826.1 499.8,826.1 C501.0,826.0 503.1,824.2 504.0,824.4 C504.8,824.6 509.0,826.9 509.5,828.0 C509.9,829.1 508.7,834.5 508.9,836.2 C509.2,838.0 512.0,845.0 512.2,847.2 C512.5,849.5 512.0,858.7 511.7,861.0 C511.4,863.3 509.7,871.4 508.9,872.5 C508.2,873.7 504.0,873.2 503.4,873.9 C502.8,874.6 502.5,878.7 502.6,880.2 C502.7,881.8 504.1,889.3 504.5,891.2 C504.9,893.2 506.0,900.7 506.7,901.7 C507.4,902.7 511.3,901.7 512.2,902.2 C513.2,902.8 516.5,906.3 517.2,907.7 C517.8,909.1 518.5,915.8 519.1,917.3 C519.7,918.9 523.9,923.3 524.0,924.8 C524.2,926.3 521.0,932.2 520.5,933.8 C519.9,935.5 519.0,941.7 518.3,942.9 C517.5,944.2 513.0,947.4 512.2,947.6 C511.5,947.8 511.0,945.6 510.0,945.4 C509.0,945.1 502.8,945.4 501.2,944.8 C499.7,944.3 494.2,940.3 493.0,939.3 C491.7,938.3 488.1,934.8 487.5,933.8 C486.9,932.8 486.9,928.6 486.1,928.3 C485.4,928.1 480.6,930.7 479.2,931.1 C477.9,931.5 471.9,932.6 471.0,932.5 C470.1,932.3 470.3,930.6 469.6,929.7 C468.9,928.8 463.0,924.4 463.3,922.8 C463.5,921.3 471.9,914.5 472.4,912.7 C472.8,910.8 469.0,904.3 468.2,902.2 C467.5,900.1 464.8,891.1 464.1,889.8 C463.4,888.6 460.7,889.2 460.5,888.5 C460.3,887.7 462.3,882.4 461.9,881.6 C461.5,880.8 457.0,880.6 455.9,879.7 C454.7,878.8 450.1,873.0 449.0,872.0 C447.9,871.0 444.1,868.1 443.5,868.7 C442.9,869.2 442.8,877.2 442.1,878.0 C441.4,878.8 436.2,878.4 435.8,877.5 C435.4,876.6 437.0,869.5 437.4,867.9 C437.8,866.2 440.4,860.5 440.2,859.6 C440.0,858.7 435.8,859.2 435.2,858.2 C434.7,857.3 433.4,850.7 433.9,849.4 C434.4,848.2 439.5,845.7 440.7,844.5 C442.0,843.3 446.6,837.5 447.6,836.2 C448.6,834.9 451.1,830.9 451.7,830.2 C452.4,829.5 454.7,829.7 455.0,828.5 C455.4,827.3 455.2,818.8 455.3,817.0 C455.4,815.2 455.7,809.8 455.9,808.7 C456.0,807.7 457.1,805.7 457.2,805.4"/>

<!--THICK-->
<path class="thick" d="M60.0,334.8 C60.5,334.9 63.2,335.5 64.1,335.7 C65.0,335.9 67.3,336.3 68.2,336.8 C69.2,337.2 71.6,339.3 72.4,339.5 C73.1,339.7 74.6,339.1 75.1,338.4 C75.6,337.7 76.3,334.6 77.0,333.5 C77.8,332.3 81.0,329.2 82.0,328.0 C83.0,326.7 85.2,323.4 86.1,322.5 C87.0,321.5 89.5,319.5 90.2,319.2 C91.0,318.9 92.7,318.4 93.0,319.7 C93.2,321.0 92.1,330.9 92.4,330.7 C92.7,330.6 95.1,319.7 95.7,318.3 C96.4,317.0 98.0,317.6 98.5,318.3 C99.0,319.1 99.6,323.7 99.9,325.2 C100.2,326.7 100.8,331.0 101.2,332.1 C101.7,333.2 103.4,334.8 104.0,334.8 C104.6,334.8 105.8,332.5 106.7,332.1 C107.7,331.6 110.9,330.9 112.2,330.7 C113.6,330.5 117.9,329.9 119.1,330.2 C120.3,330.4 122.6,331.9 123.2,332.9 C123.8,333.9 124.3,337.4 124.6,339.0 C124.9,340.6 125.5,345.2 126.0,347.2 C126.4,349.2 128.0,354.8 128.7,356.8 C129.5,358.8 131.8,363.6 132.9,365.1 C133.9,366.6 137.0,369.6 138.4,370.6 C139.7,371.6 143.6,373.1 145.2,373.9 C146.9,374.6 151.7,376.8 153.5,377.5 C155.3,378.2 160.2,380.0 161.7,380.2 C163.3,380.5 166.5,380.0 167.2,379.7 C168.0,379.3 168.3,376.9 168.6,376.9 C168.9,376.9 168.9,379.1 170.0,379.7 C171.1,380.2 176.5,381.6 178.2,382.1 C179.9,382.7 183.6,383.6 185.1,384.3 C186.6,385.0 190.3,387.6 192.0,388.5 C193.7,389.3 198.4,391.3 200.2,391.8 C202.1,392.2 206.6,392.9 208.5,392.9 C210.3,392.8 215.0,391.8 216.7,391.2 C218.4,390.7 222.1,388.9 223.6,387.9 C225.1,386.9 228.8,383.6 230.5,382.4 C232.2,381.2 237.3,378.5 238.7,377.5 C240.1,376.4 242.2,374.4 242.8,373.3 C243.5,372.3 243.6,368.9 244.2,367.8 C244.8,366.8 247.5,364.4 248.3,363.7 C249.2,363.0 250.9,361.7 251.6,361.8 C252.4,361.8 254.2,363.4 255.2,364.3 C256.2,365.1 259.2,368.1 260.7,369.2 C262.2,370.3 267.1,373.2 269.0,374.2 C270.8,375.1 275.4,376.9 277.2,377.5 C279.0,378.0 283.3,378.8 285.5,378.8 C287.6,378.9 294.3,378.5 296.5,378.0 C298.6,377.5 302.9,375.2 304.7,374.7 C306.5,374.2 311.3,374.2 313.0,373.9 C314.6,373.6 318.5,372.7 319.8,372.0 C321.2,371.2 324.1,368.3 325.3,367.0 C326.6,365.7 329.6,361.5 330.8,360.4 C332.0,359.3 335.3,357.3 336.3,356.8 C337.4,356.3 339.7,356.0 340.5,356.0 C341.2,356.0 343.1,356.3 343.2,356.8 C343.3,357.3 340.7,360.0 341.0,360.4 C341.3,360.9 344.9,360.4 345.9,361.0 C347.0,361.5 349.4,363.9 350.1,365.1 C350.7,366.3 352.0,372.1 352.0,372.0 C352.0,371.8 349.9,363.7 350.0,363.7 C350.1,363.7 351.8,370.9 352.7,372.0 C353.7,373.0 356.7,373.6 358.2,373.3 C359.8,373.0 364.4,370.4 366.5,369.2 C368.6,368.0 375.4,362.9 377.5,362.9 C379.6,362.9 383.9,367.9 385.7,369.2 C387.6,370.5 392.3,373.5 394.0,374.7 C395.7,375.9 399.5,379.0 400.9,380.2 C402.2,381.4 405.4,384.5 406.4,385.7 C407.3,386.9 409.1,390.3 409.1,391.2 C409.1,392.1 406.8,392.9 406.4,394.0 C405.9,395.0 405.0,399.0 405.0,400.8 C405.0,402.7 405.8,408.3 406.4,410.5 C407.0,412.6 409.4,418.1 410.5,420.1 C411.6,422.1 415.2,427.4 416.0,428.3 C416.8,429.2 416.6,427.4 417.4,428.1 C418.2,428.9 421.8,433.6 423.3,434.9 C424.8,436.2 429.2,439.2 430.7,440.0 C432.2,440.7 435.7,441.5 436.6,441.4 C437.5,441.4 438.0,439.3 438.7,439.4 C439.3,439.4 440.9,441.7 442.5,442.0 C444.1,442.4 451.1,442.1 452.9,442.3 C454.7,442.5 457.5,443.4 458.8,443.8 C460.1,444.2 463.3,445.6 464.7,445.9 C466.2,446.2 470.9,446.9 472.1,446.8 C473.4,446.7 475.6,445.9 476.0,445.0 C476.4,444.1 475.5,439.3 476.0,438.5 C476.4,437.7 479.6,437.1 480.1,437.9 C480.7,438.7 480.6,444.9 481.0,445.9 C481.4,446.8 483.6,447.5 484.0,446.5 C484.3,445.5 483.5,438.2 484.0,437.0 C484.4,435.9 487.3,435.3 487.8,436.1 C488.4,436.9 488.7,442.6 489.0,444.4 C489.3,446.2 490.2,451.4 490.8,452.7 C491.4,454.0 493.5,455.8 494.3,456.2 C495.1,456.7 497.3,457.2 497.9,456.8 C498.5,456.4 499.2,453.1 499.7,452.7 C500.1,452.3 501.6,452.7 502.0,453.3 C502.4,453.8 502.7,457.1 503.2,457.7 C503.7,458.4 505.9,459.3 506.8,459.2 C507.6,459.1 509.4,457.2 510.6,457.1 C511.9,457.0 516.2,458.4 518.0,458.3 C519.8,458.3 525.1,457.3 526.9,456.8 C528.7,456.3 532.7,454.8 534.3,453.9 C535.9,453.0 540.4,449.8 541.7,448.8 C543.0,447.9 545.5,445.0 546.1,445.0 C546.8,445.0 547.3,448.9 547.6,448.8 C547.9,448.8 548.7,445.4 549.1,444.4 C549.5,443.4 550.8,441.0 551.2,440.0 C551.5,438.9 551.6,435.3 552.1,434.9 C552.5,434.6 554.2,436.9 555.0,437.0 C555.8,437.1 558.5,436.1 559.5,436.1 C560.4,436.2 563.2,437.1 563.9,437.6 C564.6,438.1 565.1,440.9 565.4,440.9 C565.7,440.8 566.2,437.3 566.9,437.0 C567.5,436.7 570.3,437.9 571.3,437.9 C572.3,437.9 575.2,436.3 575.7,437.0 C576.3,437.7 576.4,443.4 576.6,444.4 C576.9,445.5 577.8,447.1 578.1,446.5 C578.4,445.8 578.7,439.4 579.3,438.5 C579.9,437.6 581.9,438.2 583.1,438.5 C584.4,438.7 589.1,440.9 590.5,440.9 C592.0,440.8 594.7,438.3 596.5,437.9 C598.3,437.5 604.7,437.1 606.8,437.0 C609.0,436.9 613.7,437.2 615.7,437.0 C617.7,436.8 622.9,436.0 624.6,435.5 C626.2,435.0 629.9,432.9 630.5,432.6"/>
<path class="thick" d="M935.6,317.0 C935.3,316.9 933.7,316.6 932.8,316.4 C931.9,316.2 928.4,315.0 927.3,315.0 C926.3,315.0 925.3,316.3 923.2,316.4 C921.1,316.6 911.9,316.1 908.1,316.4 C904.3,316.8 892.7,318.7 888.8,319.7 C885.0,320.8 877.2,324.6 873.7,325.8 C870.2,326.9 861.0,329.3 857.2,330.2 C853.4,331.0 842.4,332.5 839.3,333.5 C836.3,334.4 832.0,338.0 829.7,339.0 C827.4,339.9 821.5,341.5 818.7,341.7 C816.0,342.0 808.0,341.6 805.0,341.2 C801.9,340.7 794.0,338.6 791.2,337.6 C788.5,336.6 782.5,333.8 780.2,332.1 C777.9,330.4 772.6,324.6 770.6,322.5 C768.6,320.3 764.0,315.0 762.4,312.8 C760.7,310.7 756.9,305.0 755.5,303.2 C754.1,301.4 751.2,297.8 750.0,296.9 C748.8,296.0 746.3,295.2 744.5,295.0 C742.6,294.7 735.8,294.6 733.5,294.4 C731.2,294.3 726.0,294.1 723.9,293.6 C721.7,293.1 716.5,290.9 714.2,290.0 C711.9,289.1 705.5,286.2 703.2,285.3 C700.9,284.5 694.8,282.7 693.6,282.0 C692.4,281.4 692.9,279.5 692.2,279.3 C691.6,279.1 689.2,280.2 688.1,279.8 C687.0,279.5 684.1,276.7 682.6,276.5 C681.1,276.4 676.2,278.0 674.4,278.5 C672.5,278.9 667.3,279.8 666.1,280.7 C665.0,281.6 665.0,285.4 664.2,286.7 C663.4,288.0 660.6,291.2 659.2,292.2 C657.9,293.2 653.3,294.8 652.4,295.8 C651.5,296.8 650.5,300.6 651.0,301.0 C651.5,301.5 655.1,300.0 656.5,299.9 C657.9,299.8 662.0,299.4 663.4,299.9 C664.7,300.4 667.8,303.2 668.9,304.6 C669.9,306.0 672.3,310.9 673.0,312.8 C673.7,314.8 674.9,320.3 674.9,322.5 C675.0,324.6 674.0,330.1 673.5,332.1 C673.1,334.1 671.2,339.5 670.8,340.3 C670.4,341.2 670.2,339.4 669.9,340.0 C669.6,340.6 668.5,344.1 668.1,345.3 C667.7,346.5 666.5,350.2 665.9,351.1 C665.3,351.9 663.6,352.6 662.8,352.8 C661.9,353.1 659.1,353.6 658.4,353.7 C657.6,353.9 656.3,353.9 656.1,354.2 C655.9,354.4 656.6,355.6 656.6,355.9 C656.5,356.3 656.2,357.3 655.7,357.3 C655.2,357.3 652.7,356.0 652.2,355.9 C651.6,355.9 650.7,356.1 650.4,356.4 C650.1,356.6 649.6,357.8 649.7,358.2 C649.8,358.6 650.8,359.7 651.3,359.9 C651.7,360.2 653.3,360.2 653.9,360.4 C654.5,360.5 656.1,361.1 656.6,361.3 C657.1,361.5 658.3,361.9 658.4,362.2 C658.4,362.4 657.4,363.3 657.0,363.2 C656.6,363.1 655.4,361.5 654.8,361.3 C654.3,361.0 652.3,360.9 652.2,361.3 C652.0,361.7 653.2,363.9 653.5,364.8 C653.7,365.7 654.4,368.3 654.4,369.2 C654.4,370.2 653.5,372.9 653.5,373.7 C653.4,374.5 653.7,376.0 653.9,376.3 C654.2,376.6 655.4,376.8 655.7,376.5 C656.0,376.3 656.2,374.7 656.6,374.1 C657.0,373.6 658.6,371.9 659.2,371.5 C659.8,371.0 661.4,370.0 661.9,369.7 C662.4,369.4 663.7,368.9 664.1,368.8 C664.6,368.7 665.6,368.3 665.9,368.5 C666.1,368.7 666.3,370.0 666.3,370.6 C666.3,371.1 666.5,372.9 665.9,373.2 C665.2,373.6 660.6,373.7 660.6,373.7 C660.6,373.7 664.9,373.3 665.9,373.2 C666.8,373.1 668.3,372.8 669.0,373.0 C669.6,373.1 671.2,374.0 671.6,374.6 C672.1,375.1 673.2,377.0 673.4,377.7 C673.7,378.3 674.1,380.1 674.0,380.8 C674.0,381.4 673.3,383.0 673.0,383.4 C672.6,383.9 671.0,384.5 670.8,384.7 C670.6,385.0 671.4,386.0 671.2,386.1 C671.0,386.2 669.5,385.6 669.0,385.6 C668.5,385.7 667.2,386.2 666.8,386.5 C666.3,386.8 664.9,387.9 665.0,388.3 C665.0,388.6 667.0,389.3 667.2,389.6 C667.5,389.9 667.5,390.8 667.2,390.9 C667.0,391.1 665.5,391.3 665.0,391.4 C664.5,391.5 662.9,391.6 662.3,391.8 C661.8,392.1 660.7,393.2 660.1,393.6 C659.6,394.0 658.1,395.2 657.5,395.4 C656.9,395.6 655.4,395.7 654.8,395.6 C654.2,395.6 652.7,395.2 652.2,395.1 C651.6,395.0 650.3,394.7 649.9,394.5 C649.5,394.3 648.9,393.3 648.6,393.2 C648.4,393.1 647.7,393.4 647.7,393.6 C647.8,393.8 648.8,394.6 649.1,394.9 C649.3,395.3 649.7,396.3 649.9,396.7 C650.1,397.1 650.4,398.1 650.8,398.5 C651.2,398.9 652.9,399.9 653.5,400.3 C654.1,400.6 655.6,401.2 656.1,401.6 C656.7,402.0 658.0,403.3 658.4,403.8 C658.7,404.3 659.6,405.8 659.7,406.5 C659.8,407.1 659.1,409.3 659.2,410.0 C659.3,410.7 660.2,412.1 660.6,412.7 C661.0,413.2 662.2,414.5 662.8,414.9 C663.3,415.3 664.8,416.1 665.4,416.4 C666.1,416.7 668.3,417.6 669.0,417.8 C669.7,418.0 671.1,417.8 671.6,418.0 C672.2,418.2 673.4,419.4 673.9,419.7 C674.3,420.1 675.5,420.6 675.4,420.8 C675.2,421.0 673.2,421.5 672.5,421.7 C671.8,421.9 669.8,422.7 669.0,422.8 C668.2,423.0 666.1,423.2 665.4,423.1 C664.8,423.0 663.7,422.3 663.2,422.0 C662.8,421.6 661.8,420.0 661.5,419.7 C661.2,419.4 660.7,419.1 660.6,419.3 C660.4,419.5 660.3,421.4 660.1,422.0 C660.0,422.5 659.6,423.7 659.2,424.2 C658.8,424.6 657.4,425.6 656.6,425.9 C655.8,426.3 653.1,427.0 652.2,427.3 C651.2,427.6 648.7,428.3 647.7,428.6 C646.7,428.9 644.3,430.1 643.3,430.4 C642.3,430.7 639.8,431.1 638.9,431.3 C637.9,431.5 635.4,432.0 634.4,432.1 C633.4,432.3 630.5,432.5 630.0,432.6"/>
<path class="thick" d="M417.4,428.1 C416.0,428.9 408.0,433.8 405.5,434.9 C403.1,436.1 397.6,437.9 395.2,438.5 C392.7,439.0 384.5,439.8 383.3,440.0 C382.1,440.1 384.1,439.4 384.4,439.9 C384.6,440.5 386.0,443.0 385.7,444.6 C385.5,446.2 383.1,451.6 382.4,454.2 C381.8,456.8 380.4,464.9 380.2,468.0 C380.1,471.0 380.6,478.8 380.8,481.7 C381.0,484.6 382.0,491.8 382.4,494.1 C382.8,496.4 383.4,500.9 384.4,502.4 C385.3,503.8 389.3,506.1 391.2,507.0 C393.2,508.0 399.8,510.2 402.2,511.2 C404.7,512.1 411.8,514.2 413.2,515.6 C414.7,516.9 414.9,521.2 415.2,523.0 C415.5,524.7 416.1,529.2 416.0,531.2 C415.8,533.2 414.1,538.9 413.8,540.9 C413.5,542.8 412.8,547.7 413.2,549.1 C413.6,550.5 415.8,552.7 417.4,553.2 C418.9,553.8 425.3,553.6 427.0,554.1 C428.7,554.5 431.3,556.1 432.5,557.4 C433.6,558.6 436.5,563.6 437.4,565.6 C438.4,567.6 440.2,573.1 440.7,575.2 C441.3,577.4 442.0,582.9 442.1,584.8 C442.2,586.8 441.0,591.7 441.3,593.1 C441.6,594.5 443.9,596.3 444.9,597.2 C445.9,598.1 449.3,599.8 450.4,601.3 C451.4,602.9 453.6,608.8 454.5,611.0 C455.4,613.1 457.7,618.4 458.6,620.6 C459.5,622.8 462.3,629.6 462.7,630.8"/>
<path class="thick" d="M462.7,630.8 C464.6,630.7 476.2,630.4 479.2,630.2 C482.3,630.1 488.9,629.1 490.2,629.4 C491.6,629.7 491.9,631.3 491.6,633.0 C491.3,634.6 488.5,641.2 487.5,644.0 C486.4,646.7 483.0,655.1 482.0,657.7 C481.0,660.3 478.7,665.8 478.7,667.3 C478.7,668.9 480.7,670.9 482.0,671.5 C483.3,672.0 488.7,672.4 490.2,672.3 C491.8,672.1 494.5,670.8 495.7,670.1 C496.9,669.3 499.7,666.0 501.2,665.4 C502.8,664.8 507.6,664.8 509.5,664.6 C511.3,664.3 516.2,664.0 517.7,663.2 C519.2,662.4 521.7,658.3 523.2,657.7 C524.7,657.2 529.9,657.9 531.5,658.3 C533.0,658.6 536.1,660.2 537.0,661.0 C537.9,661.9 538.8,665.1 539.7,666.0 C540.6,666.8 543.7,668.2 545.2,668.7 C546.7,669.3 551.6,670.0 553.5,670.9 C555.3,671.8 559.6,675.7 561.7,677.0 C563.9,678.2 570.7,681.8 572.7,682.5 C574.7,683.1 578.4,683.2 579.6,682.5 C580.8,681.7 582.9,677.4 583.7,675.6 C584.5,673.7 586.2,668.3 586.5,666.0 C586.7,663.7 585.9,657.4 585.9,655.0 C585.9,652.5 585.8,646.4 586.5,644.0 C587.1,641.5 590.8,635.3 591.4,633.0 C592.0,630.7 592.3,624.9 592.0,623.3 C591.7,621.8 589.6,620.0 588.7,619.2 C587.7,618.5 584.3,617.8 583.7,616.5 C583.1,615.1 583.3,609.0 583.2,606.8 C583.0,604.7 582.7,598.7 582.3,597.2 C581.9,595.7 579.9,594.3 579.6,593.1 C579.3,591.9 579.1,587.3 579.6,586.2 C580.0,585.2 581.7,584.2 583.7,583.5 C585.7,582.7 594.4,580.1 597.5,579.3 C600.5,578.6 609.4,578.5 611.2,577.2 C613.0,575.8 613.0,569.6 614.0,567.0 C614.9,564.3 617.9,556.1 619.5,553.2 C621.0,550.3 626.1,543.8 627.7,540.9 C629.3,538.0 633.1,530.0 634.0,527.1 C634.9,524.2 635.5,518.9 635.7,514.7 C635.9,510.6 635.9,495.8 635.9,490.0 C636.0,484.2 635.9,468.0 635.9,462.5 C635.9,457.0 635.9,444.0 635.9,440.5 C636.0,437.0 636.0,432.1 636.0,431.0"/>
<path class="thick" d="M462.7,630.8 C462.6,632.2 461.8,641.0 461.4,644.0 C460.9,647.0 459.1,655.1 458.6,657.7 C458.1,660.3 457.7,665.9 457.2,667.3 C456.8,668.8 456.0,670.3 454.5,670.6 C453.0,670.9 447.5,670.2 443.5,670.1 C439.5,670.0 424.5,669.7 418.7,669.5 C412.9,669.4 396.7,668.8 391.2,668.7 C385.7,668.6 372.9,668.6 369.2,668.7 C365.6,668.9 360.4,669.9 358.2,670.1 C356.1,670.3 350.8,670.6 350.0,670.6 C349.2,670.7 352.5,670.4 351.4,670.4 C350.4,670.3 343.5,670.1 340.5,670.1 C337.4,670.1 327.5,670.1 324.0,670.1 C320.4,670.1 311.0,669.9 308.8,670.1 C306.7,670.2 305.6,671.5 304.7,671.5 C303.8,671.5 301.3,670.8 300.6,670.1 C299.8,669.3 298.4,665.8 297.8,664.6 C297.2,663.4 296.0,660.2 295.1,659.1 C294.2,657.9 291.0,654.9 289.6,654.1 C288.2,653.4 284.5,652.5 282.7,652.2 C280.9,651.9 275.1,652.1 273.1,651.7 C271.1,651.2 266.5,648.6 264.8,648.1 C263.2,647.6 259.8,647.6 258.0,647.3 C256.1,647.0 250.0,646.0 248.3,645.3 C246.7,644.7 244.1,641.9 242.8,641.2 C241.6,640.5 238.5,639.1 237.3,639.0 C236.2,639.0 232.9,640.1 232.4,640.7 C231.9,641.2 232.5,643.2 233.2,644.0 C233.9,644.7 237.2,646.6 238.7,647.3 C240.2,647.9 246.0,649.2 247.0,650.0 C248.0,650.9 247.6,653.6 247.8,655.0 C247.9,656.3 248.9,660.9 248.3,661.8 C247.8,662.8 244.7,663.5 242.8,663.8 C241.0,664.0 234.1,663.6 231.8,663.8 C229.6,663.9 223.7,665.4 222.2,665.4 C220.7,665.4 218.8,664.9 218.1,664.0 C217.4,663.2 216.3,659.6 215.9,657.7 C215.5,655.8 215.0,649.0 214.5,646.7 C214.1,644.4 212.7,638.9 212.0,637.1 C211.4,635.3 209.6,631.6 208.5,630.8 C207.3,629.9 203.0,630.2 201.6,629.7 C200.2,629.1 197.2,626.4 196.1,626.1 C195.0,625.8 192.9,626.1 192.0,626.6 C191.1,627.2 189.1,629.3 187.9,630.8 C186.6,632.2 182.7,638.1 181.0,639.8 C179.3,641.6 174.4,645.0 172.7,646.7 C171.1,648.4 167.2,653.6 165.9,655.0 C164.5,656.3 161.4,658.7 160.4,659.1 C159.3,659.5 156.7,658.4 156.2,658.3"/>
<path class="thick" d="M156.2,658.3 C156.5,658.8 158.5,661.4 159.0,663.2 C159.5,665.0 160.4,671.6 160.9,674.2 C161.5,676.8 163.2,684.1 163.9,686.6 C164.6,689.0 166.5,694.5 167.2,696.2 C168.0,697.9 170.1,700.2 170.5,701.7 C170.9,703.2 170.4,708.8 170.8,710.0 C171.2,711.1 173.2,711.6 174.1,711.9 C175.0,712.2 178.0,712.0 178.8,712.7 C179.5,713.4 180.5,717.0 181.0,718.2 C181.5,719.4 183.2,722.4 183.2,723.1 C183.2,723.9 181.2,724.1 181.0,725.1 C180.7,726.1 181.4,730.4 181.0,731.9 C180.5,733.5 177.9,737.4 176.9,738.8 C175.8,740.3 171.5,745.0 171.4,745.1 C171.2,745.3 175.6,740.0 175.5,740.0 C175.3,740.0 171.4,744.3 170.0,745.5 C168.6,746.7 164.8,749.9 163.1,750.4 C161.4,751.0 156.7,750.6 154.9,750.4 C153.0,750.3 148.4,748.9 146.6,748.8 C144.8,748.7 139.6,749.2 138.4,749.6 C137.1,750.0 135.8,751.3 135.6,752.4 C135.5,753.4 136.6,757.7 137.0,759.2 C137.4,760.8 139.1,764.4 139.2,766.1 C139.3,767.8 138.3,772.5 137.8,774.4 C137.3,776.2 135.2,780.8 134.8,782.6 C134.3,784.5 134.1,789.2 133.7,790.9 C133.3,792.5 131.0,796.1 130.9,797.7 C130.8,799.4 132.7,804.2 132.9,806.0 C133.0,807.8 131.6,812.6 132.0,814.2 C132.5,815.9 135.7,819.6 137.0,821.1 C138.3,822.6 142.9,826.1 143.9,827.4 C144.8,828.8 145.4,831.4 145.8,833.5 C146.2,835.5 146.7,843.6 147.4,845.9 C148.1,848.1 151.0,852.4 152.1,854.1 C153.2,855.8 156.7,859.5 157.6,861.0 C158.5,862.5 160.1,866.0 160.4,867.9 C160.6,869.7 159.7,875.6 159.5,877.5 C159.4,879.3 159.3,882.9 159.0,884.3 C158.6,885.8 156.5,889.0 156.2,890.7 C155.9,892.4 156.3,897.6 156.2,899.5 C156.2,901.4 155.6,905.6 155.7,907.7 C155.8,909.9 156.7,916.3 157.1,918.7 C157.4,921.2 159.1,927.0 159.0,929.7 C158.8,932.5 155.9,940.6 155.7,943.5 C155.4,946.4 156.4,953.2 156.8,955.8 C157.1,958.4 158.3,965.3 159.0,966.8 C159.7,968.4 162.0,969.4 163.1,969.6 C164.2,969.8 167.5,968.3 168.6,968.8 C169.7,969.2 171.5,972.4 172.7,973.7 C174.0,975.0 178.1,979.1 179.6,980.6 C181.1,982.1 185.3,985.9 186.5,987.5 C187.7,989.0 189.4,993.8 190.6,994.3 C191.8,994.9 196.3,992.6 197.5,992.4 C198.7,992.3 200.7,992.1 201.6,993.0 C202.5,993.8 204.7,998.5 205.7,999.8 C206.7,1001.2 209.6,1003.8 210.7,1005.3 C211.7,1006.9 214.1,1012.1 215.3,1013.6 C216.6,1015.0 220.5,1016.9 222.2,1018.3 C223.9,1019.6 230.3,1023.9 230.5,1025.4 C230.6,1026.9 225.1,1030.5 223.6,1031.4 C222.1,1032.4 217.9,1033.6 216.7,1034.2 C215.5,1034.8 213.2,1035.5 212.6,1036.9 C212.0,1038.4 212.1,1045.3 211.4,1047.0 C210.7,1048.7 208.2,1051.1 206.5,1051.9 C204.8,1052.7 198.7,1054.0 196.3,1054.5 C193.9,1055.0 186.3,1056.3 185.0,1056.5"/>
<path class="thick" d="M201.6,170.4 C202.4,170.6 206.8,171.5 208.5,171.8 C210.2,172.0 215.2,172.2 216.7,172.6 C218.3,173.0 220.8,174.8 222.2,175.4 C223.6,176.0 229.1,178.2 229.1,178.1 C229.1,178.0 223.7,175.0 222.2,174.5 C220.7,174.1 216.9,174.2 215.3,174.0 C213.8,173.8 210.0,173.3 208.5,172.9 C206.9,172.5 202.4,170.7 201.6,170.4"/>
<path class="thick" d="M235.1,178.9 C235.7,178.9 238.9,178.3 240.1,178.4 C241.3,178.5 246.1,179.3 246.1,179.5 C246.1,179.7 241.3,180.1 240.1,180.0 C238.9,180.0 235.7,179.1 235.1,178.9"/>
<path class="thick" d="M317.6,231.2 C318.3,230.6 322.5,227.0 324.0,226.2 C325.4,225.4 329.5,224.3 330.8,224.0 C332.1,223.7 335.8,223.2 335.8,223.5 C335.8,223.7 332.1,225.6 330.8,226.2 C329.5,226.8 325.4,228.4 324.0,229.0 C322.5,229.5 318.3,230.9 317.6,231.2"/>
<path class="thick" d="M292.3,287.3 C292.6,287.4 294.6,287.5 295.1,288.1 C295.6,288.7 297.1,292.5 297.0,292.8 C296.9,293.1 294.8,291.5 294.3,290.8 C293.7,290.2 292.5,287.7 292.3,287.3"/>
<circle cx="272.5" cy="149.8" r="1.7" fill="#000"/>
<circle cx="293.2" cy="143.7" r="1.7" fill="#000"/>
<circle cx="306.9" cy="232.3" r="1.7" fill="#000"/>
<circle cx="308.8" cy="225.4" r="1.7" fill="#000"/>
<circle cx="312.4" cy="226.8" r="1.7" fill="#000"/>
<circle cx="525.4" cy="338.1" r="1.6" fill="#000"/>
<circle cx="426.4" cy="381.0" r="1.6" fill="#000"/>
<circle cx="427.3" cy="386.8" r="1.6" fill="#000"/>
<circle cx="437.2" cy="383.2" r="1.6" fill="#000"/>
<ellipse cx="267.6" cy="194.9" rx="3.2" ry="1.8" transform="rotate(20 267.6 194.9)" fill="none" stroke="#000" stroke-width="1.8"/>
<ellipse cx="302.8" cy="296.3" rx="2.6" ry="2.0" transform="rotate(25 302.8 296.3)" fill="none" stroke="#000" stroke-width="1.8"/>
<ellipse cx="335.5" cy="302.7" rx="2.6" ry="2.0" transform="rotate(25 335.5 302.7)" fill="none" stroke="#000" stroke-width="1.8"/>
<ellipse cx="238.7" cy="313.7" rx="1.7" ry="2.8" transform="rotate(0 238.7 313.7)" fill="none" stroke="#000" stroke-width="1.8"/>
<ellipse cx="389.3" cy="329.3" rx="3.0" ry="3.5" transform="rotate(-15 389.3 329.3)" fill="none" stroke="#000" stroke-width="1.8"/>
<ellipse cx="402.2" cy="331.8" rx="3.6" ry="2.3" transform="rotate(15 402.2 331.8)" fill="none" stroke="#000" stroke-width="1.8"/>
<ellipse cx="522.9" cy="314.2" rx="2.7" ry="2.7" transform="rotate(0 522.9 314.2)" fill="none" stroke="#000" stroke-width="1.8"/>
<ellipse cx="467.7" cy="355.7" rx="1.5" ry="0.8" transform="rotate(0 467.7 355.7)" fill="none" stroke="#000" stroke-width="1.8"/>

<!--BARBS-->
<path class="barb" d="M132,176L104.0,175.4L103.9,180.9M220,176L192.3,177.3L192.5,182.8M308,176L280.0,177.3L280.2,182.8M132,264L105.4,271.6L106.9,276.9M220,264L192.8,269.7L193.9,275.1M308,264L280.0,264.7L280.1,270.2M308,352L280.0,353.3L280.2,358.8M396,176L368.7,173.4L368.2,178.9M484,176L457.8,167.4L456.1,172.6M572,176L549.3,160.2L546.2,164.8M396,264L368.7,258.7L367.6,264.1M484,264L458.6,253.7L456.5,258.8M572,264L549.3,248.8L546.3,253.3M396,352L369.2,345.8L368.0,351.2M484,352L459.4,339.8L457.0,344.7M572,352L550.2,334.8L546.8,339.2M484,440L460.0,426.4L457.3,431.2M572,440L554.0,418.7L549.8,422.2M660,176L641.4,155.3L637.4,159.0M660,264L641.4,243.6L637.4,247.3M660,352L641.4,331.5L637.4,335.2M748,176L730.2,154.7L726.0,158.3M836,176L816.5,156.4L812.6,160.3M924,176L903.4,157.5L899.7,161.6M748,264L730.2,242.2L725.9,245.7M836,264L817.3,243.6L813.3,247.3M924,264L904.0,245.5L900.2,249.5M748,352L730.7,330.2L726.4,333.6M836,352L818.2,330.7L814.0,334.2M924,352L904.8,332.1L900.8,335.9M660,440L644.1,417.3L639.6,420.5M748,440L730.7,417.9L726.4,421.3M836,440L818.2,418.7L814.0,422.2M924,440L905.3,419.5L901.3,423.2M132,440L107.3,452.9L109.8,457.7M220,440L193.9,449.3L195.7,454.5M308,440L280.8,445.4L281.9,450.8M396,440L368.7,439.1L368.5,444.6M484,528L461.4,512.5L458.3,517.1M572,528L558.4,504.3L553.6,507.0M484,616L461.4,600.5L458.3,605.1M572,616L552.9,596.7L549.0,600.5M396,704L378.9,682.5L374.6,685.9M484,704L464.9,684.7L461.0,688.5M572,704L551.5,685.8L547.9,689.9M660,528L649.6,502.4L644.5,504.4M748,528L734.9,503.7L730.0,506.4M836,528L818.2,506.5L813.9,510.0M924,528L904.5,508.7L900.6,512.6M660,616L641.4,595.0L637.3,598.7M748,616L731.3,593.6L726.9,596.9M836,616L817.9,595.0L813.7,598.6M924,616L904.0,597.2L900.2,601.2M660,704L641.4,683.8L637.4,687.6M748,704L730.7,682.5L726.4,685.9M836,704L817.9,683.3L813.8,686.9M924,704L904.0,685.2L900.2,689.2M308,792L289.0,771.6L285.0,775.4M308,880L291.0,858.2L286.6,861.6M396,792L376.9,771.6L372.9,775.4M484,792L465.5,771.6L461.4,775.3M572,792L554.0,771.6L549.9,775.3M396,880L376.9,860.2L373.0,864.0M484,880L463.6,861.0L459.8,865.0M572,880L550.2,863.7L546.9,868.1M484,968L466.0,947.6L461.9,951.2M660,792L646.9,767.5L642.0,770.1M748,792L737.6,766.7L732.5,768.8M836,792L822.8,767.5L818.0,770.1M924,792L905.3,772.4L901.4,776.2M660,880L641.4,859.1L637.3,862.7M748,880L732.9,857.7L728.4,860.8M836,880L820.9,857.7L816.4,860.8M924,880L901.8,864.6L898.6,869.1"/>
<circle class="calm" cx="132" cy="352" r="1.8"/>
<circle class="calm" cx="220" cy="352" r="1.8"/>
<circle class="calm" cx="132" cy="528" r="1.8"/>
<circle class="calm" cx="220" cy="528" r="1.8"/>
<circle class="calm" cx="308" cy="528" r="1.8"/>
<circle class="calm" cx="396" cy="528" r="1.8"/>
<circle class="calm" cx="132" cy="616" r="1.8"/>
<circle class="calm" cx="220" cy="616" r="1.8"/>
<circle class="calm" cx="308" cy="616" r="1.8"/>
<circle class="calm" cx="396" cy="616" r="1.8"/>
<circle class="calm" cx="132" cy="704" r="1.8"/>
<circle class="calm" cx="220" cy="704" r="1.8"/>
<circle class="calm" cx="308" cy="704" r="1.8"/>
<circle class="calm" cx="132" cy="792" r="1.8"/>
<circle class="calm" cx="220" cy="792" r="1.8"/>
<circle class="calm" cx="132" cy="880" r="1.8"/>
<circle class="calm" cx="220" cy="880" r="1.8"/>
<circle class="calm" cx="132" cy="968" r="1.8"/>
<circle class="calm" cx="220" cy="968" r="1.8"/>
<circle class="calm" cx="308" cy="968" r="1.8"/>
<circle class="calm" cx="396" cy="968" r="1.8"/>
<circle class="calm" cx="572" cy="968" r="1.8"/>
<circle class="calm" cx="660" cy="968" r="1.8"/>
<circle class="calm" cx="748" cy="968" r="1.8"/>
<circle class="calm" cx="836" cy="968" r="1.8"/>
<circle class="calm" cx="924" cy="968" r="1.8"/>

<text x="931" y="1052.7" font-size="10.4" text-anchor="end" style="fill:#111">©Sub Bidang Prediksi Cuaca BMKG, 2026</text>
</g>
<rect x="62.5" y="132.5" width="871" height="924" fill="none" stroke="#000" stroke-width="3"/>
<text x="26" y="356.6" font-size="16.8">6°S</text>
<text x="661.8" y="1079" font-size="16.8" text-anchor="middle">107°E</text>
<text x="61.8" y="1101" font-size="17.55">Model: WRF 10 KM</text>
<text x="933" y="1101" font-size="17.45" text-anchor="end">Sumber: CIPS BMKG</text>
<!--COLORBAR-->
<rect x="970.5" y="226.0" width="19" height="32.7" fill="#ff6482"/>
<rect x="970.5" y="258.4" width="19" height="61.4" fill="#7d00a0"/>
<rect x="970.5" y="319.5" width="19" height="61.4" fill="#960000"/>
<rect x="970.5" y="380.6" width="19" height="61.4" fill="#c00000"/>
<rect x="970.5" y="441.7" width="19" height="61.4" fill="#e62d0f"/>
<rect x="970.5" y="502.8" width="19" height="61.4" fill="#ff7d4b"/>
<rect x="970.5" y="563.9" width="19" height="61.4" fill="#ffc800"/>
<rect x="970.5" y="625.0" width="19" height="61.4" fill="#e6e678"/>
<rect x="970.5" y="686.1" width="19" height="61.4" fill="#7edd7a"/>
<rect x="970.5" y="747.2" width="19" height="61.4" fill="#abffa3"/>
<rect x="970.5" y="808.3" width="19" height="61.4" fill="#9ddbfb"/>
<rect x="970.5" y="869.4" width="19" height="61.4" fill="#cceffe"/>
<rect x="970.5" y="930.5" width="19" height="32.5" fill="#eef6ff"/>
<rect x="970.5" y="224.5" width="19.2" height="739.7" fill="none" stroke="#000" stroke-width="3"/>
<line x1="991" y1="258.4" x2="1001.8" y2="258.4" stroke="#000" stroke-width="2.6"/><text x="1014.7" y="265.0" font-size="16.8">120.0</text>
<line x1="991" y1="319.5" x2="1001.8" y2="319.5" stroke="#000" stroke-width="2.6"/><text x="1014.7" y="326.1" font-size="16.8">100.0</text>
<line x1="991" y1="380.6" x2="1001.8" y2="380.6" stroke="#000" stroke-width="2.6"/><text x="1014.0" y="387.2" font-size="16.8">80.0</text>
<line x1="991" y1="441.7" x2="1001.8" y2="441.7" stroke="#000" stroke-width="2.6"/><text x="1014.0" y="448.3" font-size="16.8">64.0</text>
<line x1="991" y1="502.8" x2="1001.8" y2="502.8" stroke="#000" stroke-width="2.6"/><text x="1014.0" y="509.4" font-size="16.8">48.0</text>
<line x1="991" y1="563.9" x2="1001.8" y2="563.9" stroke="#000" stroke-width="2.6"/><text x="1014.0" y="570.5" font-size="16.8">34.0</text>
<line x1="991" y1="625.0" x2="1001.8" y2="625.0" stroke="#000" stroke-width="2.6"/><text x="1014.0" y="631.6" font-size="16.8">25.0</text>
<line x1="991" y1="686.1" x2="1001.8" y2="686.1" stroke="#000" stroke-width="2.6"/><text x="1014.0" y="692.7" font-size="16.8">20.0</text>
<line x1="991" y1="747.2" x2="1001.8" y2="747.2" stroke="#000" stroke-width="2.6"/><text x="1014.7" y="753.8" font-size="16.8">15.0</text>
<line x1="991" y1="808.3" x2="1001.8" y2="808.3" stroke="#000" stroke-width="2.6"/><text x="1014.7" y="814.9" font-size="16.8">10.0</text>
<line x1="991" y1="869.4" x2="1001.8" y2="869.4" stroke="#000" stroke-width="2.6"/><text x="1014.0" y="876.0" font-size="16.8">5.0</text>
<line x1="991" y1="930.5" x2="1001.8" y2="930.5" stroke="#000" stroke-width="2.6"/><text x="1014.0" y="937.1" font-size="16.8">0.0</text>

</svg>
</body></html>
